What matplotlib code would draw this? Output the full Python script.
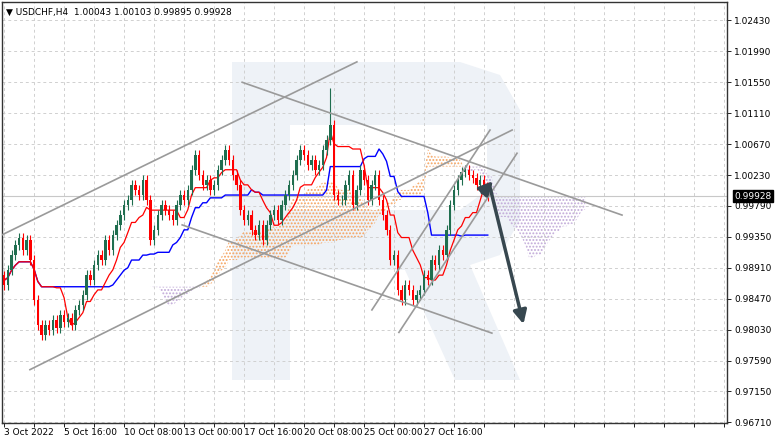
import matplotlib
matplotlib.use("Agg")
import matplotlib.pyplot as plt
import numpy as np
import pandas as pd
from matplotlib.patches import Polygon

closes = [0.9866,0.9888,0.9909,0.9923,0.9933,0.9916,0.9930,0.9902,0.9845,0.9810,
          0.9795,0.9810,0.9802,0.9817,0.9805,0.9824,0.9814,0.9820,0.9810,0.9831,
          0.9838,0.9852,0.9881,0.9874,0.9895,0.9909,0.9902,0.9930,0.9916,0.9938,
          0.9952,0.9966,0.9980,0.9987,1.0009,1.0002,0.9995,1.0016,0.9987,0.9930,
          0.9945,0.9966,0.9980,0.9973,0.9966,0.9959,0.9980,0.9995,0.9987,1.0002,
          1.0030,1.0051,1.0023,1.0009,1.0016,1.0002,1.0009,1.0030,1.0044,1.0059,
          1.0044,1.0023,1.0009,0.9973,0.9959,0.9966,0.9945,0.9938,0.9952,0.9930,
          0.9952,0.9966,0.9973,0.9959,0.9980,0.9995,1.0009,1.0023,1.0044,1.0059,
          1.0051,1.0037,1.0044,1.0030,1.0037,1.0059,1.0073,1.0094,0.9995,0.9987,
          0.9987,1.0009,1.0023,0.9980,1.0002,1.0030,1.0016,0.9987,1.0009,1.0023,
          0.9987,0.9966,0.9945,0.9902,0.9909,0.9859,0.9845,0.9866,0.9859,0.9845,
          0.9852,0.9859,0.9881,0.9874,0.9902,0.9895,0.9916,0.9909,0.9945,0.9980,
          1.0002,1.0016,1.0027,1.0030,1.0023,1.0019,1.0009,1.0016,1.0002,0.99928]
first_open = 0.9880
wick = 0.0007
spike_high = {87: 1.0147}
x_labels = ["3 Oct 2022","5 Oct 16:00","10 Oct 08:00","13 Oct 00:00","17 Oct 16:00",
            "20 Oct 08:00","25 Oct 00:00","27 Oct 16:00"]
price_ticks = [0.96710,0.97150,0.97590,0.98030,0.98470,0.98910,0.99350,0.99790,
               1.00230,1.00670,1.01110,1.01550,1.01990,1.02430]
last_price = 0.99928
trend_lines = [((-0.5,0.9938),(94.1,1.0184)),((6.9,0.9746),(135.5,1.0087)),
               ((63.5,1.0155),(164.8,0.9966)),((47.5,0.9952),(130.1,0.9798)),
               ((98.1,0.9831),(129.6,1.0087)),((105.3,0.9799),(136.8,1.0054))]
arrow_long = ((129.3,1.0012),(138.7,0.9807))
arrow_short = ((127.0,0.9995),(130.9,1.0017))

c = np.array(closes)
o = np.concatenate([[first_open], c[:-1]])
hi = np.maximum(o, c) + wick
lo = np.minimum(o, c) - wick
for k, v in spike_high.items():
    hi[k] = v
n = len(c)
idx = np.arange(n)

s_hi = pd.Series(hi); s_lo = pd.Series(lo)
tenkan = (s_hi.rolling(9, min_periods=1).max() + s_lo.rolling(9, min_periods=1).min()) / 2
kijun = (s_hi.rolling(26, min_periods=1).max() + s_lo.rolling(26, min_periods=1).min()) / 2
spa = (tenkan + kijun) / 2
spb = (s_hi.rolling(52, min_periods=1).max() + s_lo.rolling(52, min_periods=1).min()) / 2
cx = idx + 26

W, H = 782, 443
fig = plt.figure(figsize=(W/100, H/100), dpi=100)
ax = fig.add_axes([2/W, 20/H, 725/W, 421/H])

# watermark
def fp(pts):
    return [(x/W, 1 - y/H) for x, y in pts]
outer = [(232,62),(460,62),(500,75),(520,110),(520,220),(500,255),(470,265),(520,380),
         (455,380),(405,270),(290,270),(290,380),(232,380)]
ax.add_patch(Polygon(fp(outer), closed=True, transform=fig.transFigure,
                     facecolor='#eef2f7', edgecolor='none', zorder=0))
hole = [(290,125),(487,125),(487,190),(460,210),(290,210)]
ax.add_patch(Polygon(fp(hole), closed=True, transform=fig.transFigure,
                     facecolor='white', edgecolor='none', zorder=0.1))

# cloud
plt.rcParams['hatch.linewidth'] = 0.9
a = spa.values; b = spb.values
ax.fill_between(cx, a, b, where=a >= b, interpolate=True, facecolor='none',
                edgecolor='#f5a25d', hatch='.....', linewidth=0, zorder=1)
ax.fill_between(cx, a, b, where=a < b, interpolate=True, facecolor='none',
                edgecolor='#c0a8d8', hatch='.....', linewidth=0, zorder=1)

ax.plot(idx, kijun, color='#0000ff', lw=1, zorder=3)
ax.plot(idx, tenkan, color='#ff0000', lw=0.9, zorder=3)

for i in range(n):
    col = '#1f6e4f' if c[i] >= o[i] else '#ff0000'
    ax.vlines(i, lo[i], hi[i], color=col, lw=0.8, zorder=4)
    ax.bar(i, max(abs(c[i]-o[i]), 0.00008), bottom=min(o[i], c[i]), width=0.65,
           color=col, linewidth=0, zorder=4)

for (x0, y0), (x1, y1) in trend_lines:
    ax.plot([x0, x1], [y0, y1], color='#9a9a9a', lw=1.2, zorder=5)
for (x0, y0), (x1, y1) in (arrow_long, arrow_short):
    ax.annotate('', xy=(x1, y1), xytext=(x0, y0),
                arrowprops=dict(arrowstyle='-|>,head_length=0.8,head_width=0.4',
                                color='#37474f', lw=2.5), zorder=6)

ax.axhline(last_price, color='#c8c8c8', lw=0.8, zorder=2)

ax.set_xlim(-0.55, 192.8)
ax.set_ylim(0.96701, 1.02692)
ax.set_xticks(np.arange(0, 193, 8))
ax.set_yticks(price_ticks)
ax.grid(True, color='#d0d0d0', ls=(0, (3, 3)), lw=0.7, zorder=0.5)
ax.yaxis.tick_right()
ax.set_yticklabels([f"{p:.5f}" for p in price_ticks], fontsize=6.5)
ax.set_xticklabels([])
ax.tick_params(length=3, width=0.6, pad=2)
for k, lab in enumerate(x_labels):
    ax.text(k*16, -0.012, lab, transform=ax.get_xaxis_transform(), ha='left', va='top', fontsize=6.5)
for s in ax.spines.values():
    s.set_color('#333333'); s.set_linewidth(1)

ax.text(1.01, last_price, f"{last_price:.5f}", transform=ax.get_yaxis_transform(),
        va='center', ha='left', fontsize=6.5, color='white',
        bbox=dict(boxstyle='square,pad=0.15', fc='black', ec='black'))
ax.text(0.006, 0.985, "▼ USDCHF,H4  1.00043 1.00103 0.99895 0.99928", transform=ax.transAxes,
        va='top', ha='left', fontsize=6.5)

fig.savefig("out.png", dpi=100)
